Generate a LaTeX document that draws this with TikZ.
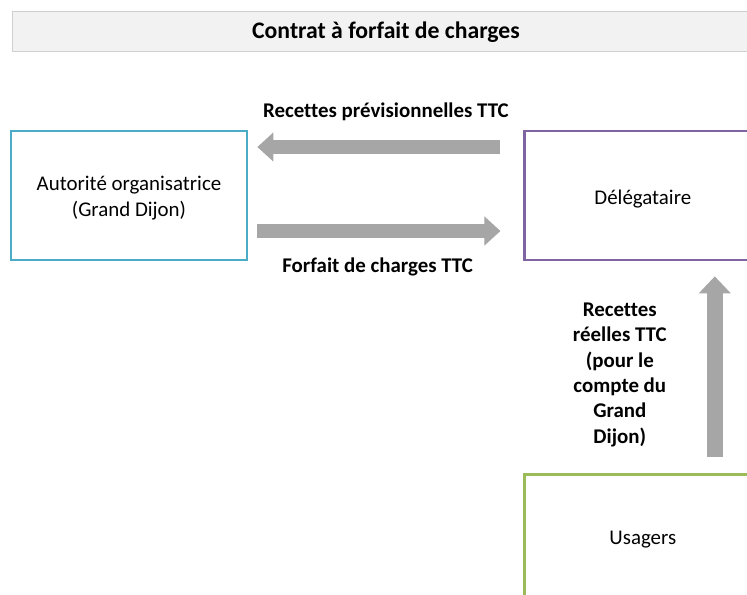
\documentclass[tikz,border=0pt]{standalone}
\usepackage{fontspec}
\setmainfont[Ligatures=NoCommon]{Carlito}
\usepackage{tikz}
\usetikzlibrary{arrows.meta, positioning, calc}
\definecolor{autoblue}{HTML}{4BACC6}
\definecolor{delegpurple}{HTML}{8064A2}
\definecolor{usagergreen}{HTML}{9BBB59}
\definecolor{arrowgray}{HTML}{A6A6A6}
\definecolor{titlebg}{HTML}{F2F2F2}
\definecolor{titleline}{HTML}{CFCFCF}
\newcommand{\lowered}[2]{\raisebox{-#1}[\height][\depth]{\begin{tabular}{@{}c@{}}#2\end{tabular}}}
\tikzstyle{actor} = [rectangle, minimum width=4.72cm, minimum height=2.58cm, text centered, line width=1.6pt, fill=white, font=\fontsize{11.9}{14.7}\selectfont]
\tikzstyle{headbar} = [rectangle, minimum width=14.96cm, minimum height=0.76cm, draw=titleline, fill=titlebg, font=\fontsize{13.5}{16}\selectfont\bfseries]
\tikzstyle{flow} = [line width=2.8mm, draw=arrowgray, -{Triangle[length=3.2mm, width=5.8mm, line width=0.6pt]}]
\tikzstyle{flowlabel} = [font=\fontsize{11.9}{14.4}\selectfont\bfseries, align=center, text=black]

\begin{document}
\begin{tikzpicture}
    \useasboundingbox (0,0) rectangle (14.94,-11.88);
    \clip (0,0) rectangle (14.94,-11.88);
    \node[headbar] (title) at (7.72,-0.62) {\lowered{1.1pt}{Contrat à forfait de charges}};
    \node[actor, draw=autoblue] (auto) at (2.58,-3.91) {\lowered{1.7pt}{Autorité organisatrice\\(Grand Dijon)}};
    \node[actor, draw=delegpurple, right=5.5cm of auto] (deleg) {\lowered{2.2pt}{Délégataire}};
    \node[actor, draw=usagergreen, below=4.24cm of deleg] (usagers) {\lowered{0.2pt}{Usagers}};

    \draw[flow, shorten <=0.46cm, shorten >=0.18cm] ([yshift=0.97cm]deleg.west) -- node[flowlabel, pos=0.5, yshift=0.7cm] {Recettes prévisionnelles TTC} ([yshift=0.97cm]auto.east);
    \draw[flow, shorten <=0.18cm, shorten >=0.46cm] ([yshift=-0.71cm]auto.east) -- node[flowlabel, pos=0.47, yshift=-0.72cm] {Forfait de charges TTC} ([yshift=-0.71cm]deleg.west);
    \draw[flow, line width=3.2mm, -{Triangle[length=3.4mm, width=6.4mm, line width=0.6pt]}, shorten <=0.32cm, shorten >=0.3cm] ([xshift=1.44cm]usagers.north) -- node[flowlabel, xshift=-1.9cm, yshift=-0.15cm] {Recettes\\réelles TTC\\(pour le\\compte du\\Grand\\Dijon)} ([xshift=1.44cm]deleg.south);
\end{tikzpicture}
\end{document}
